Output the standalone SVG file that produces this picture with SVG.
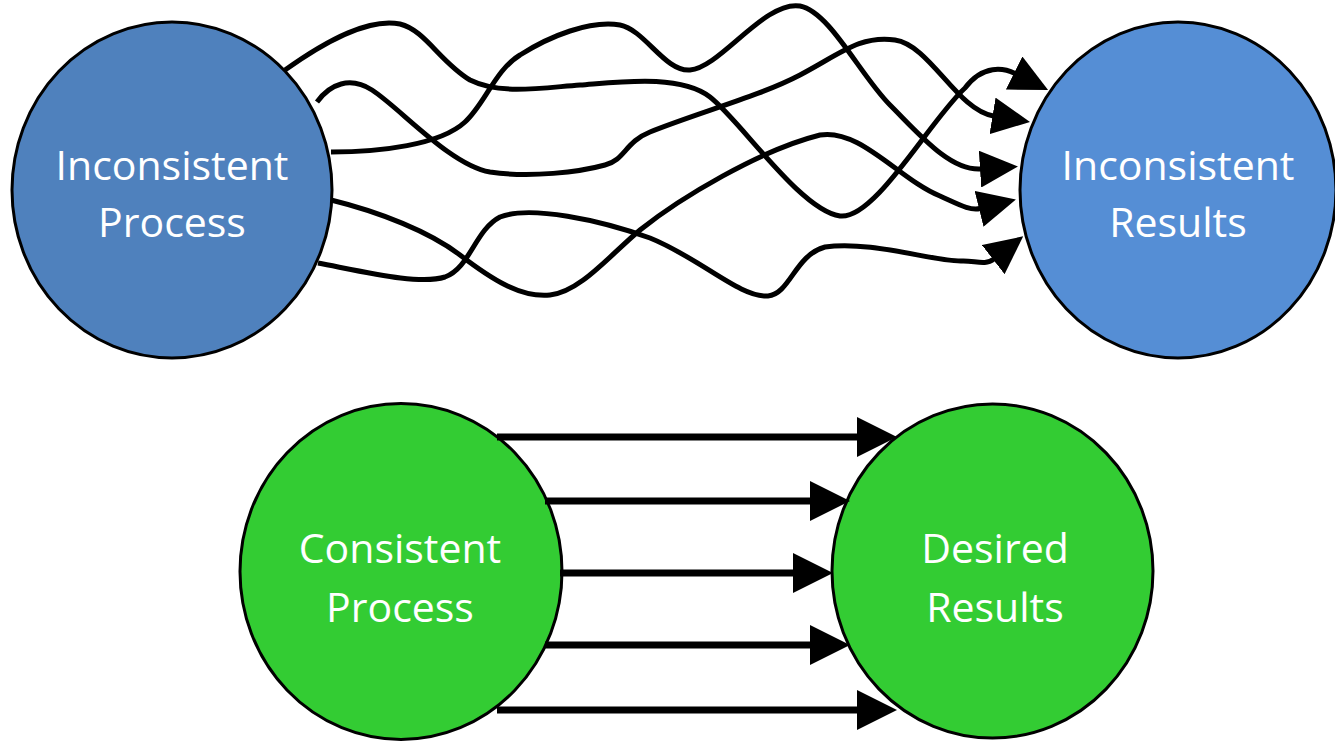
<svg xmlns="http://www.w3.org/2000/svg" width="1335" height="741" viewBox="0 0 1335 741">
  <style>
    .node { stroke: #000; stroke-width: 3; }
    .label { font-family: "Open Sans", "Liberation Sans", sans-serif; font-size: 41px; fill: #fff; text-anchor: middle; }
    .wavy { fill: none; stroke: #000; stroke-width: 5; stroke-linecap: butt; marker-end: url(#headSmall); }
    .straight { fill: none; stroke: #000; stroke-width: 7; marker-end: url(#headLarge); }
  </style>
  <defs>
    <marker id="headSmall" markerUnits="userSpaceOnUse" markerWidth="38" markerHeight="37" viewBox="0 0 38 37" refX="1" refY="18.5" orient="auto">
      <path d="M0,0 L38,18.5 L0,37 Z" fill="#000"/>
    </marker>
    <marker id="headLarge" markerUnits="userSpaceOnUse" markerWidth="40" markerHeight="40" viewBox="0 0 40 40" refX="1" refY="20" orient="auto">
      <path d="M0,0 L40,20 L0,40 Z" fill="#000"/>
    </marker>
  </defs>

  <rect width="1335" height="741" fill="#fff"/>

  <g id="inconsistent-process">
    <ellipse class="node" cx="172" cy="190" rx="160" ry="168" fill="#4F81BD"/>
    <text class="label" x="172" y="180">Inconsistent</text>
    <text class="label" x="172" y="237">Process</text>
  </g>

  <g id="inconsistent-results">
    <ellipse class="node" cx="1178" cy="190" rx="158" ry="168" fill="#558ED5"/>
    <text class="label" x="1178" y="180">Inconsistent</text>
    <text class="label" x="1178" y="237">Results</text>
  </g>

  <g id="consistent-process">
    <ellipse class="node" cx="401" cy="571.5" rx="161" ry="168" fill="#33CC33"/>
    <text class="label" x="400" y="563">Consistent</text>
    <text class="label" x="400" y="622">Process</text>
  </g>

  <g id="desired-results">
    <ellipse class="node" cx="992.5" cy="571" rx="160.5" ry="167" fill="#33CC33"/>
    <text class="label" x="995" y="563">Desired</text>
    <text class="label" x="995" y="622">Results</text>
  </g>

  <g id="connectors">
    <!-- tangled paths from the inconsistent process -->
    <path class="wavy" d="M285,70 C330,38 370,18 400,24 C425,30 440,62 470,80 C500,95 540,88 580,85 C620,82 680,74 710,97 C740,120 800,210 840,216 C875,220 930,120 965,88 C983,64 1004,68 1015,73.5"/>
    <path class="wavy" d="M317,102 C330,84 350,76 372,90 C400,108 450,165 490,172 C530,178 580,172 605,165 C625,160 625,142 650,132 C700,112 760,96 800,75 C840,54 860,35 895,40 C930,45 957,110 993.5,116"/>
    <path class="wavy" d="M331,152 C380,152 440,145 465,122 C485,104 495,70 520,55 C550,36 590,20 620,25 C645,30 665,72 690,70 C720,68 765,0 800,6 C830,12 860,75 890,105 C920,135 950,171 981,169"/>
    <path class="wavy" d="M331,200 C380,212 430,232 460,255 C490,278 520,298 550,295 C580,292 610,255 640,230 C680,198 760,150 820,135 C860,128 900,180 940,196 C958,204 970,211 980,208.5"/>
    <path class="wavy" d="M318,263 C370,273 420,285 445,277 C470,268 475,230 500,217 C530,205 600,220 650,238 C700,258 740,298 768,296 C790,294 795,255 825,247 C870,240 935,262 962,261 C975,260.5 985,266 994,259"/>

    <!-- parallel paths from the consistent process -->
    <path class="straight" d="M497,437 H858"/>
    <path class="straight" d="M545,501 H811"/>
    <path class="straight" d="M560,573 H794"/>
    <path class="straight" d="M545,645 H811"/>
    <path class="straight" d="M497,710 H858"/>
  </g>
</svg>
